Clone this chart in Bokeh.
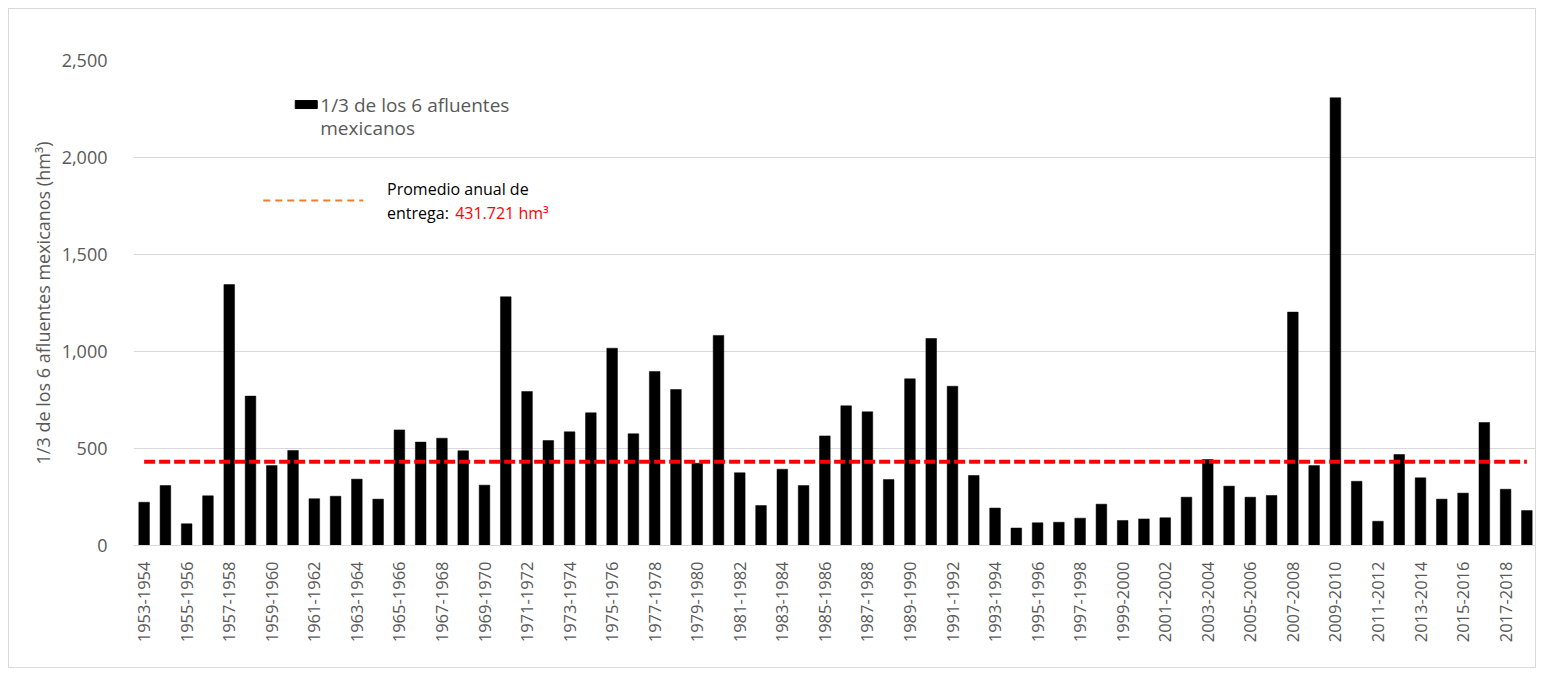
import math
from bokeh.plotting import figure
from bokeh.models import ColumnDataSource, FixedTicker, NumeralTickFormatter, Range1d, Label
from bokeh.embed import file_html
from bokeh.resources import INLINE

# ---------------- data ----------------
periods = [
    "1953-1954", "1954-1955", "1955-1956", "1956-1957", "1957-1958", "1958-1959",
    "1959-1960", "1960-1961", "1961-1962", "1962-1963", "1963-1964", "1964-1965",
    "1965-1966", "1966-1967", "1967-1968", "1968-1969", "1969-1970", "1970-1971",
    "1971-1972", "1972-1973", "1973-1974", "1974-1975", "1975-1976", "1976-1977",
    "1977-1978", "1978-1979", "1979-1980", "1980-1981", "1981-1982", "1982-1983",
    "1983-1984", "1984-1985", "1985-1986", "1986-1987", "1987-1988", "1988-1989",
    "1989-1990", "1990-1991", "1991-1992", "1992-1993", "1993-1994", "1994-1995",
    "1995-1996", "1996-1997", "1997-1998", "1998-1999", "1999-2000", "2000-2001",
    "2001-2002", "2002-2003", "2003-2004", "2004-2005", "2005-2006", "2006-2007",
    "2007-2008", "2008-2009", "2009-2010", "2010-2011", "2011-2012", "2012-2013",
    "2013-2014", "2014-2015", "2015-2016", "2016-2017", "2017-2018", "2018-2019",
]
afluentes = [
    223, 309, 112, 256, 1345, 770, 412, 490, 241, 254,
    342, 239, 596, 533, 553, 488, 311, 1282, 794, 541,
    586, 684, 1017, 576, 897, 804, 424, 1083, 375, 206,
    393, 309, 565, 720, 689, 340, 859, 1067, 821, 361,
    193, 90, 117, 120, 141, 213, 129, 137, 143, 249,
    443, 306, 249, 258, 1203, 412, 2308, 331, 125, 469,
    349, 239, 270, 634, 290, 180,
]
promedio = 431.721
y_ticks = [0, 500, 1000, 1500, 2000, 2500]
series_label_1 = "1/3 de los 6 afluentes"
series_label_2 = "mexicanos"
avg_label_1 = "Promedio anual de"
avg_label_2 = "entrega: "
avg_value_label = "431.721 hm\u00b3"
y_title = "1/3 de los 6 afluentes mexicanos (hm\u00b3)"

# ---------------- figure ----------------
idx = list(range(len(periods)))
src = ColumnDataSource(dict(x=idx, y=afluentes, period=periods))

FONT = "Open Sans"
GRAY = "#595959"

p = figure(
    width=1528, height=660,
    x_range=Range1d(-0.5, len(periods) - 0.5),
    y_range=Range1d(y_ticks[0], y_ticks[-1]),
    output_backend="svg", toolbar_location=None,
    min_border_left=124, min_border_right=0,
    min_border_top=51, min_border_bottom=124,
)
p.styles = {"border": "1px solid #d9d9d9", "margin-left": "8px", "margin-top": "8px"}
p.outline_line_color = None
p.background_fill_color = "white"
p.border_fill_color = "white"

p.vbar(x="x", top="y", width=0.5, bottom=0, source=src,
       fill_color="black", line_color="black", line_width=0.5)

# average line
p.line(x=[idx[0], idx[-1]], y=[promedio, promedio], line_color="#ff0000",
       line_width=4, line_dash="11 4", line_cap="butt")

# axes
p.xgrid.grid_line_color = None
p.ygrid.grid_line_color = "#d9d9d9"
p.ygrid.grid_line_width = 1
p.yaxis.ticker = FixedTicker(ticks=y_ticks)
p.yaxis.formatter = NumeralTickFormatter(format="0,0")
p.yaxis.axis_line_color = None
p.yaxis.major_tick_line_color = None
p.yaxis.minor_tick_line_color = None
p.yaxis.major_label_text_font = FONT
p.yaxis.major_label_text_font_size = "18px"
p.yaxis.major_label_text_color = GRAY
p.yaxis.major_label_standoff = 20
p.yaxis.axis_label = y_title
p.yaxis.axis_label_text_font = FONT
p.yaxis.axis_label_text_font_size = "18px"
p.yaxis.axis_label_text_font_style = "normal"
p.yaxis.axis_label_text_color = GRAY
p.yaxis.axis_label_standoff = 4

even = list(range(0, len(periods), 2))
p.xaxis.ticker = FixedTicker(ticks=even)
p.xaxis.major_label_overrides = {i: periods[i] for i in even}
p.xaxis.major_label_orientation = math.pi / 2
p.xaxis.axis_line_color = "#d9d9d9"
p.xaxis.major_tick_line_color = None
p.xaxis.minor_tick_line_color = None
p.xaxis.major_label_text_font = FONT
p.xaxis.major_label_text_font_size = "16.5px"
p.xaxis.major_label_text_color = GRAY
p.xaxis.major_label_standoff = 10

# ---------------- legend (drawn manually) ----------------
p.rect(x=[7.62], y=[2273], width=22, height=8, width_units="screen",
       height_units="screen", fill_color="black", line_color="black")
p.add_layout(Label(x=8.28, y=2273, text=series_label_1, text_font=FONT,
                   text_font_size="19px", text_color=GRAY, text_baseline="alphabetic"))
p.add_layout(Label(x=8.28, y=2150, text=series_label_2, text_font=FONT,
                   text_font_size="19px", text_color=GRAY, text_baseline="alphabetic"))

p.line(x=[5.6, 10.3], y=[1778, 1778], line_color="#ED7D31", line_width=2,
       line_dash="7 5")
p.add_layout(Label(x=11.42, y=1840, text=avg_label_1, text_font=FONT,
                   text_font_size="16px", text_color="black", text_baseline="alphabetic"))
p.add_layout(Label(x=11.42, y=1715, text=avg_label_2, text_font=FONT,
                   text_font_size="16px", text_color="black", text_baseline="alphabetic"))
p.add_layout(Label(x=14.62, y=1715, text=avg_value_label, text_font=FONT,
                   text_font_size="16px", text_color="#ff0000", text_baseline="alphabetic"))

open("out.html", "w").write(file_html(p, INLINE))
